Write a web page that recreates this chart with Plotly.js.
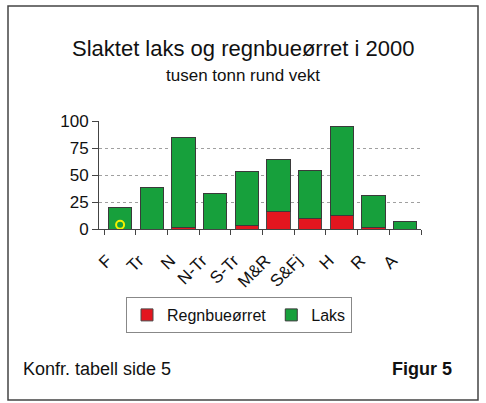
<!DOCTYPE html>
<html>
<head>
<meta charset="utf-8">
<script src="https://cdn.plot.ly/plotly-3.0.1.min.js"></script>
<style>
  html, body { margin: 0; padding: 0; background: #ffffff; }
  #chart { width: 486px; height: 403px; }
</style>
</head>
<body>
<div id="chart"></div>
<script>
// ---- data ----
const categories = ["F", "Tr", "N", "N-Tr", "S-Tr", "M&R", "S&Fj", "H", "R", "A"];
const regnbueorret = [0, 0, 1.5, 0, 3, 16, 10, 12.5, 1, 0];
const laks = [20, 38, 83, 32.5, 50, 48, 44, 82, 30, 7];
const yTicks = [0, 25, 50, 75, 100];
const markerCategory = ["F"];
const markerValue = [4];

// ---- layout geometry (pixels) ----
const FIG_W = 486, FIG_H = 403;
const L = 99, R = 421, T = 121, B = 229;
const PW = R - L, PH = B - T;
const px = x => (x - L) / PW;
const py = y => (B - y) / PH;

const FONT = "Liberation Sans, Arial, sans-serif";

const traces = [
  {
    type: "bar", name: "Regnbueørret", x: categories, y: regnbueorret,
    marker: { color: "#e3161f", line: { color: "#4a4a4a", width: 1 } }
  },
  {
    type: "bar", name: "Laks", x: categories, y: laks,
    marker: { color: "#17a03c", line: { color: "#3a3a3a", width: 1 } }
  },
  {
    type: "scatter", mode: "markers", x: markerCategory, y: markerValue,
    showlegend: false, hoverinfo: "skip",
    marker: { symbol: "circle-open", size: 8, color: "#f5f000", line: { width: 2, color: "#f5f000" } }
  }
];

const layout = {
  width: FIG_W, height: FIG_H,
  margin: { l: L, r: FIG_W - R, t: T, b: FIG_H - B, pad: 0 },
  paper_bgcolor: "#ffffff",
  plot_bgcolor: "#ffffff",
  font: { family: FONT, color: "#111111" },
  barmode: "stack",
  bargap: 0.27,
  showlegend: true,
  xaxis: {
    type: "category",
    tickson: "boundaries",
    ticks: "outside", ticklen: 5, tickcolor: "#444", tickwidth: 1,
    showline: true, linecolor: "#444", linewidth: 1,
    showgrid: false,
    tickangle: -45,
    ticklabelstandoff: 14,
    ticklabelshift: -13,
    tickfont: { size: 17, family: FONT, color: "#111" },
    fixedrange: true
  },
  yaxis: {
    range: [0, 100],
    tickvals: yTicks,
    ticks: "outside", ticklen: 6, tickcolor: "#444", tickwidth: 1,
    showline: true, linecolor: "#444", linewidth: 1,
    showgrid: true, gridcolor: "#a0a0a0", griddash: "dot", gridwidth: 1,
    zeroline: false,
    tickfont: { size: 17, family: FONT, color: "#111" },
    fixedrange: true
  },
  legend: {
    orientation: "h",
    x: px(239), xanchor: "center",
    y: py(297), yanchor: "top",
    bordercolor: "#888", borderwidth: 1, bgcolor: "#ffffff",
    font: { size: 16, family: FONT, color: "#111" },
    traceorder: "normal"
  },
  shapes: [
    {
      type: "rect", xref: "paper", yref: "paper",
      x0: px(8), x1: px(478), y0: py(400), y1: py(6),
      line: { color: "#444", width: 1.5 }, fillcolor: "rgba(0,0,0,0)", layer: "below"
    }
  ],
  annotations: [
    {
      text: "Slaktet laks og regnbueørret i 2000", xref: "paper", yref: "paper",
      x: px(243), y: py(49), xanchor: "center", yanchor: "middle", showarrow: false,
      font: { size: 22, family: FONT, color: "#111" }
    },
    {
      text: "tusen tonn rund vekt", xref: "paper", yref: "paper",
      x: px(243), y: py(75), xanchor: "center", yanchor: "middle", showarrow: false,
      font: { size: 17, family: FONT, color: "#111" }
    },
    {
      text: "Konfr. tabell side 5", xref: "paper", yref: "paper",
      x: px(21), y: py(369), xanchor: "left", yanchor: "middle", showarrow: false,
      font: { size: 18, family: FONT, color: "#111" }
    },
    {
      text: "<b>Figur 5</b>", xref: "paper", yref: "paper",
      x: px(454), y: py(369), xanchor: "right", yanchor: "middle", showarrow: false,
      font: { size: 18, family: FONT, color: "#111" }
    }
  ]
};

Plotly.newPlot("chart", traces, layout, { staticPlot: true, displayModeBar: false });
</script>
</body>
</html>
